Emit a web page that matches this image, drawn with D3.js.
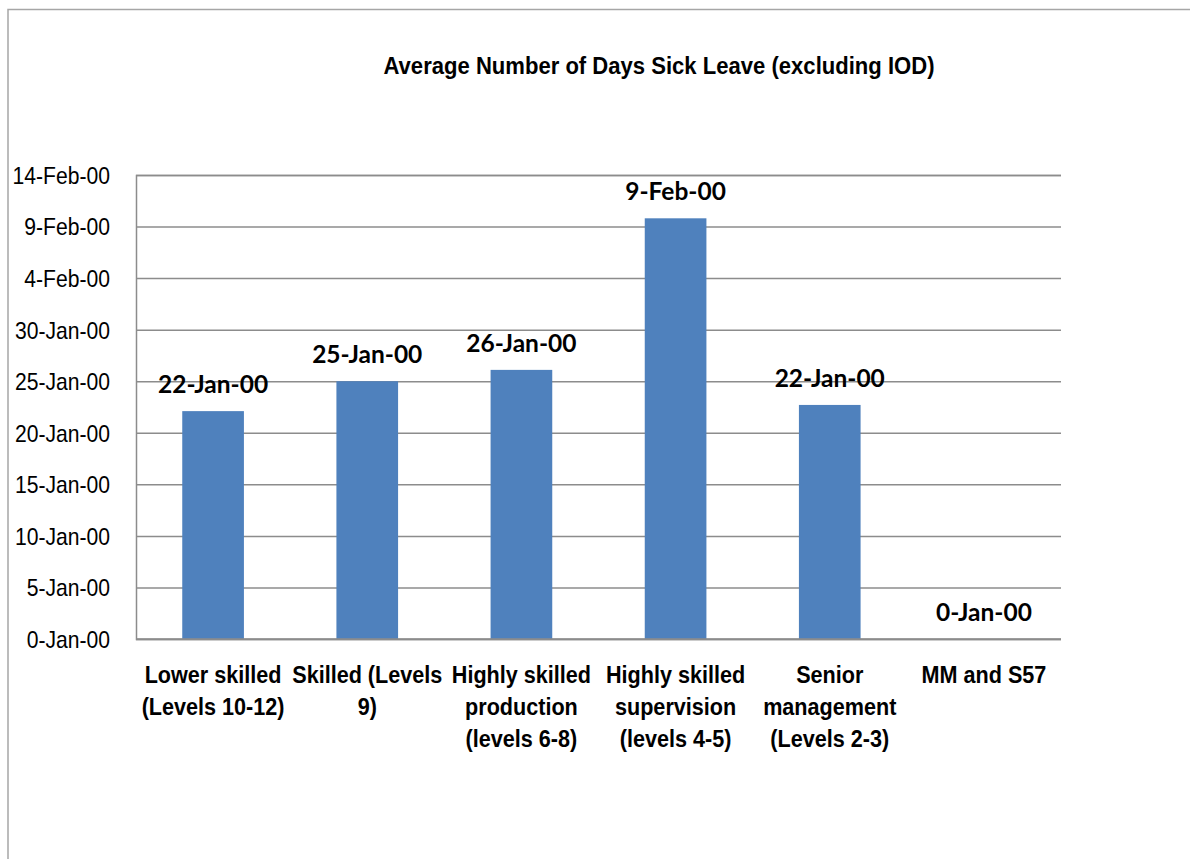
<!DOCTYPE html>
<html>
<head>
<meta charset="utf-8">
<script src="https://cdn.jsdelivr.net/npm/d3@7"></script>
<style>
  html, body { margin: 0; padding: 0; background: #fff; }
  svg { display: block; }
  .narrow { font-family: "Liberation Sans Narrow", "Liberation Sans", Arial, sans-serif; }
</style>
</head>
<body>
<svg id="chart" width="1190" height="859"></svg>
<script>
// ---- data ----
const title = "Average Number of Days Sick Leave (excluding IOD)";
const categories = [
  "Lower skilled\n(Levels 10-12)",
  "Skilled (Levels\n9)",
  "Highly skilled\nproduction\n(levels 6-8)",
  "Highly skilled\nsupervision\n(levels 4-5)",
  "Senior\nmanagement\n(Levels 2-3)",
  "MM and S57"
];
const values = [22.1, 25.0, 26.1, 40.8, 22.7, 0];
const yTickValues = [0, 5, 10, 15, 20, 25, 30, 35, 40, 45];
const yTickLabels = ["0-Jan-00", "5-Jan-00", "10-Jan-00", "15-Jan-00", "20-Jan-00",
                     "25-Jan-00", "30-Jan-00", "4-Feb-00", "9-Feb-00", "14-Feb-00"];

// Excel-style d-mmm-yy formatting of a day serial (day 0 = 0-Jan-00)
function excelDate(v) {
  const d = Math.floor(v);
  return d <= 31 ? d + "-Jan-00" : (d - 31) + "-Feb-00";
}

// ---- layout ----
const svg = d3.select("#chart");
const plot = { left: 136, right: 1061, top: 175, bottom: 639 };
const narrowTitle = 0.92, narrowTick = 0.88, narrowCat = 0.9;

// outer chart border
svg.append("path")
  .attr("d", `M8,859 L8,9.5 L1190,9.5`)
  .attr("fill", "none").attr("stroke", "#a6a6a6").attr("stroke-width", 1.5);

// title
svg.append("text")
  .attr("class", "narrow")
  .attr("transform", `translate(659,74) scale(${narrowTitle},1)`)
  .attr("text-anchor", "middle")
  .attr("font-weight", "bold").attr("font-size", 24)
  .attr("fill", "#000")
  .text(title);

const x = d3.scaleBand().domain(categories).range([plot.left, plot.right]).paddingInner(0.6).paddingOuter(0.3);
const y = d3.scaleLinear().domain([0, 45]).range([plot.bottom, plot.top]);

// gridlines + y axis
const yAxis = d3.axisLeft(y).tickValues(yTickValues)
  .tickSize(-(plot.right - plot.left))
  .tickFormat((d, i) => yTickLabels[i]);
const gy = svg.append("g").attr("transform", `translate(${plot.left},0)`).call(yAxis);
gy.select(".domain").attr("stroke", "#8c8c8c").attr("stroke-width", 1.5);
gy.selectAll(".tick line").attr("stroke", "#8c8c8c").attr("stroke-width", 1.5);
gy.selectAll(".tick text")
  .attr("class", "narrow")
  .attr("x", -26 / narrowTick)
  .attr("transform", `scale(${narrowTick},1)`)
  .attr("dy", "0.35em")
  .attr("font-size", 24)
  .attr("fill", "#000");

// bars
svg.append("g").selectAll("rect").data(values).join("rect")
  .attr("x", (d, i) => x(categories[i]))
  .attr("width", x.bandwidth())
  .attr("y", d => y(d))
  .attr("height", d => y(0) - y(d))
  .attr("fill", "#4F81BD");

// redraw baseline on top of bars
svg.append("line")
  .attr("x1", plot.left).attr("x2", plot.right)
  .attr("y1", y(0)).attr("y2", y(0))
  .attr("stroke", "#8c8c8c").attr("stroke-width", 1.5);

// value labels
svg.append("g").selectAll("text").data(values).join("text")
  .attr("x", (d, i) => x(categories[i]) + x.bandwidth() / 2)
  .attr("y", d => y(d) - 18)
  .attr("text-anchor", "middle")
  .attr("font-family", "Lato, 'Open Sans', sans-serif")
  .attr("font-weight", "bold").attr("font-size", 24.5)
  .attr("fill", "#000")
  .text(d => excelDate(d));

// category labels
const cl = svg.append("g").selectAll("text").data(categories).join("text")
  .attr("class", "narrow")
  .attr("transform", d => `translate(${x(d) + x.bandwidth() / 2},683) scale(${narrowCat},1)`)
  .attr("text-anchor", "middle")
  .attr("font-weight", "bold").attr("font-size", 24)
  .attr("fill", "#000");
cl.each(function(d) {
  const t = d3.select(this);
  d.split("\n").forEach((line, k) => {
    t.append("tspan").attr("x", 0).attr("y", k * 32).text(line);
  });
});
</script>
</body>
</html>
